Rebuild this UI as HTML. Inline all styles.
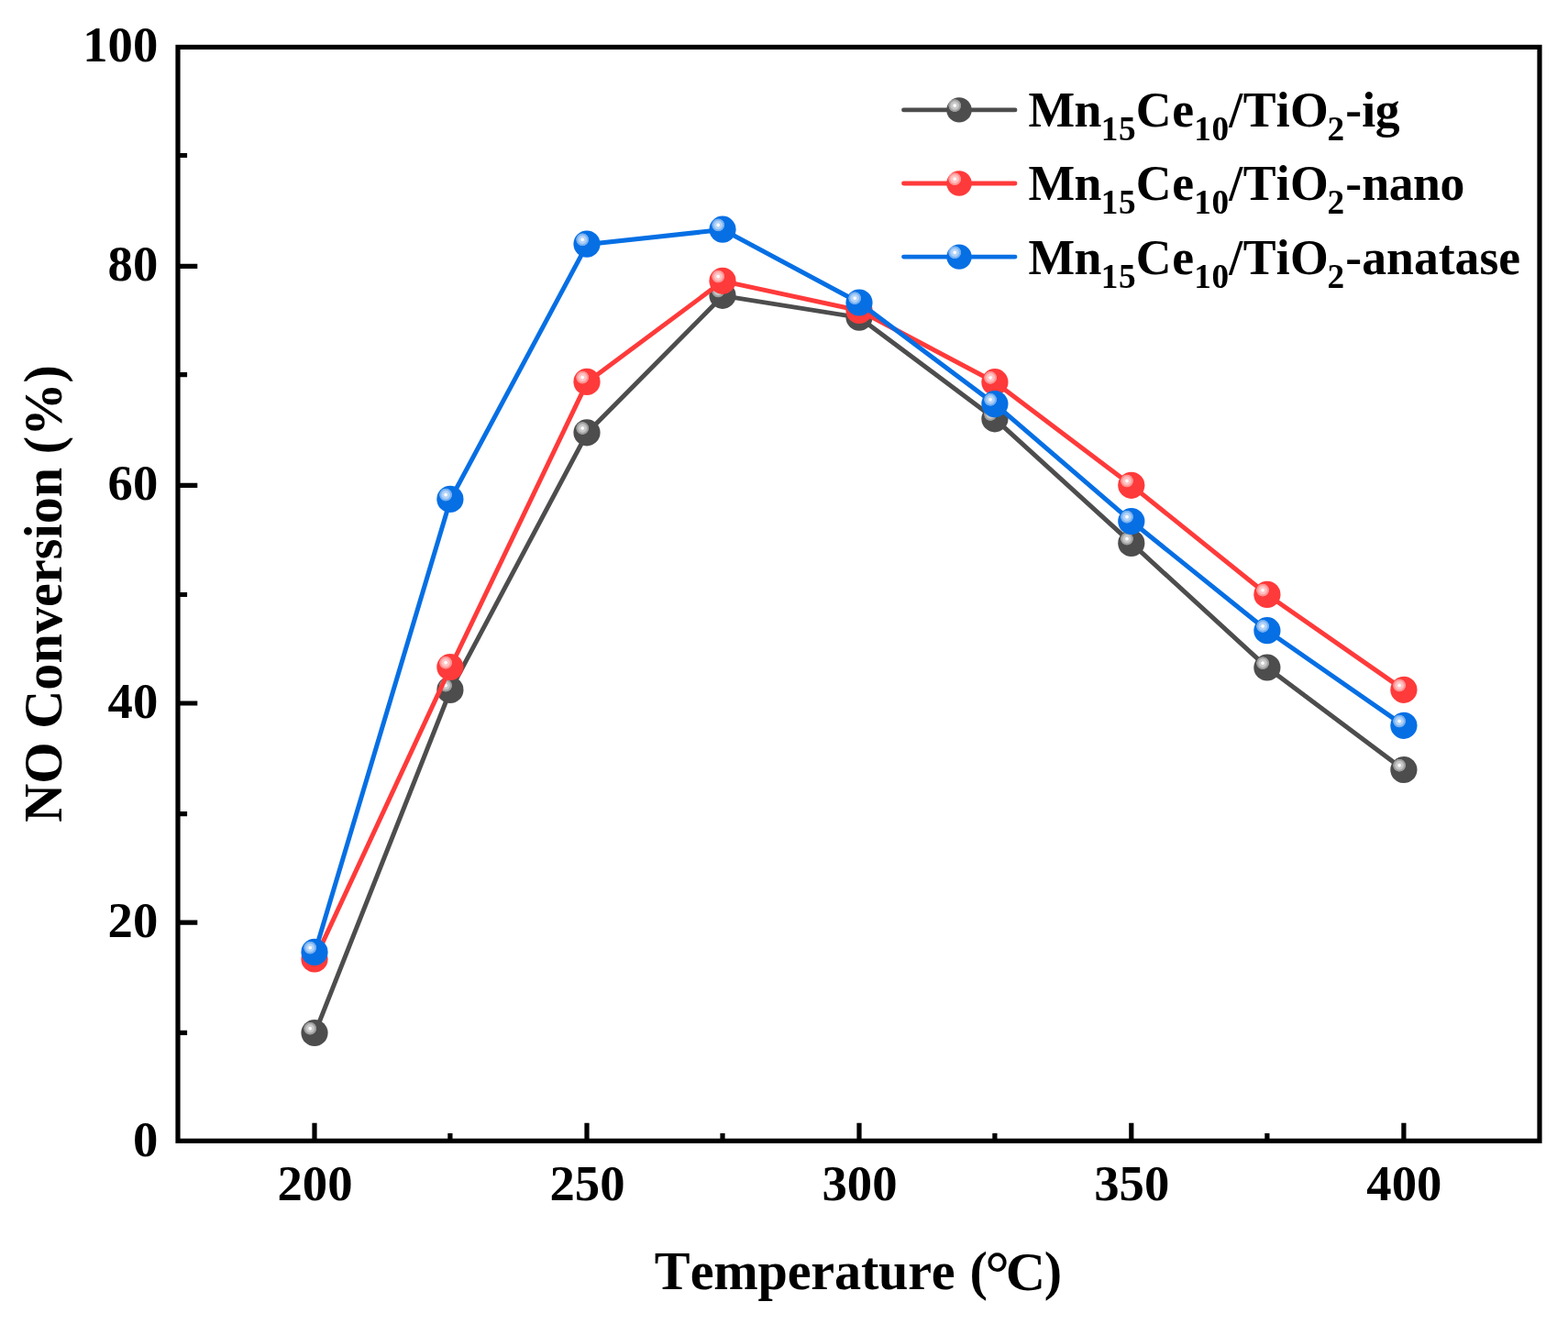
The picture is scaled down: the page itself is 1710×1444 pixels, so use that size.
<!DOCTYPE html>
<html lang="en"><head><meta charset="utf-8"><title>NO Conversion vs Temperature</title>
<style>html,body{margin:0;padding:0;background:#fff}body{width:1710px;height:1444px;overflow:hidden}svg{display:block}text{font-family:"Liberation Serif","Noto Serif CJK SC",serif;font-weight:bold;fill:#000;font-kerning:none}</style></head><body>
<svg width="1710" height="1444" viewBox="0 0 1710 1444">
<defs><radialGradient id="hl" cx="0.5" cy="0.5" r="0.5"><stop offset="0" stop-color="#fff" stop-opacity="1"/><stop offset="0.17" stop-color="#fff" stop-opacity="1"/><stop offset="0.31" stop-color="#fff" stop-opacity="0.72"/><stop offset="0.6" stop-color="#fff" stop-opacity="0.66"/><stop offset="0.7" stop-color="#fff" stop-opacity="0.5"/><stop offset="0.9" stop-color="#fff" stop-opacity="0.42"/><stop offset="1" stop-color="#fff" stop-opacity="0"/></radialGradient></defs>
<rect width="1710" height="1444" fill="#fff"/>
<g id="axes"><path d="M343 1244.3 V1224.8 M490.9 1244.3 V1236 M640 1244.3 V1224.8 M788 1244.3 V1236 M937 1244.3 V1224.8 M1084.9 1244.3 V1236 M1233.8 1244.3 V1224.8 M1381.9 1244.3 V1236 M1530.9 1244.3 V1224.8 M194 1126.4 H204.1 M194 1006.2 H215.3 M194 887.6 H204.1 M194 767 H215.3 M194 648.5 H204.1 M194 529.3 H215.3 M194 408.6 H204.1 M194 290.3 H215.3 M194 169.5 H204.1" stroke="#000" stroke-width="5.2" fill="none"/>
<rect x="194" y="51.4" width="1485" height="1192.9" fill="none" stroke="#000" stroke-width="5.2"/></g>
<g id="series-ig"><polyline points="343,1126.5 490.9,752.4 640,471.8 788,322.3 937,346.1 1084.9,456.8 1233.8,592.4 1381.9,728 1530.9,839.5" fill="none" stroke="#4d4d4d" stroke-width="5" stroke-linejoin="round" transform="translate(0.4 0.3)"/>
<circle cx="343" cy="1126.5" r="14.6" fill="#4d4d4d"/><circle cx="338.2" cy="1121.7" r="7.3" fill="url(#hl)"/>
<circle cx="490.9" cy="752.4" r="14.6" fill="#4d4d4d"/><circle cx="486.1" cy="747.6" r="7.3" fill="url(#hl)"/>
<circle cx="640" cy="471.8" r="14.6" fill="#4d4d4d"/><circle cx="635.2" cy="467" r="7.3" fill="url(#hl)"/>
<circle cx="788" cy="322.3" r="14.6" fill="#4d4d4d"/><circle cx="783.2" cy="317.5" r="7.3" fill="url(#hl)"/>
<circle cx="937" cy="346.1" r="14.6" fill="#4d4d4d"/><circle cx="932.2" cy="341.3" r="7.3" fill="url(#hl)"/>
<circle cx="1084.9" cy="456.8" r="14.6" fill="#4d4d4d"/><circle cx="1080.1" cy="452" r="7.3" fill="url(#hl)"/>
<circle cx="1233.8" cy="592.4" r="14.6" fill="#4d4d4d"/><circle cx="1229" cy="587.6" r="7.3" fill="url(#hl)"/>
<circle cx="1381.9" cy="728" r="14.6" fill="#4d4d4d"/><circle cx="1377.1" cy="723.2" r="7.3" fill="url(#hl)"/>
<circle cx="1530.9" cy="839.5" r="14.6" fill="#4d4d4d"/><circle cx="1526.1" cy="834.7" r="7.3" fill="url(#hl)"/>
</g>
<g id="series-nano"><polyline points="343,1046 490.9,727.5 640,416.4 788,306.3 937,338.4 1084.9,416.7 1233.8,529.3 1381.9,648.4 1530.9,752.3" fill="none" stroke="#ff3a3a" stroke-width="5" stroke-linejoin="round" transform="translate(0.4 0.3)"/>
<circle cx="343" cy="1046" r="14.6" fill="#ff3a3a"/><circle cx="338.2" cy="1041.2" r="7.3" fill="url(#hl)"/>
<circle cx="490.9" cy="727.5" r="14.6" fill="#ff3a3a"/><circle cx="486.1" cy="722.7" r="7.3" fill="url(#hl)"/>
<circle cx="640" cy="416.4" r="14.6" fill="#ff3a3a"/><circle cx="635.2" cy="411.6" r="7.3" fill="url(#hl)"/>
<circle cx="788" cy="306.3" r="14.6" fill="#ff3a3a"/><circle cx="783.2" cy="301.5" r="7.3" fill="url(#hl)"/>
<circle cx="937" cy="338.4" r="14.6" fill="#ff3a3a"/><circle cx="932.2" cy="333.6" r="7.3" fill="url(#hl)"/>
<circle cx="1084.9" cy="416.7" r="14.6" fill="#ff3a3a"/><circle cx="1080.1" cy="411.9" r="7.3" fill="url(#hl)"/>
<circle cx="1233.8" cy="529.3" r="14.6" fill="#ff3a3a"/><circle cx="1229" cy="524.5" r="7.3" fill="url(#hl)"/>
<circle cx="1381.9" cy="648.4" r="14.6" fill="#ff3a3a"/><circle cx="1377.1" cy="643.6" r="7.3" fill="url(#hl)"/>
<circle cx="1530.9" cy="752.3" r="14.6" fill="#ff3a3a"/><circle cx="1526.1" cy="747.5" r="7.3" fill="url(#hl)"/>
</g>
<g id="series-anatase"><polyline points="343,1038.4 490.9,544.4 640,266.1 788,250.2 937,330 1084.9,440.6 1233.8,568.5 1381.9,687.7 1530.9,791.3" fill="none" stroke="#066fe4" stroke-width="5" stroke-linejoin="round" transform="translate(0.4 0.3)"/>
<circle cx="343" cy="1038.4" r="14.6" fill="#066fe4"/><circle cx="338.2" cy="1033.6" r="7.3" fill="url(#hl)"/>
<circle cx="490.9" cy="544.4" r="14.6" fill="#066fe4"/><circle cx="486.1" cy="539.6" r="7.3" fill="url(#hl)"/>
<circle cx="640" cy="266.1" r="14.6" fill="#066fe4"/><circle cx="635.2" cy="261.3" r="7.3" fill="url(#hl)"/>
<circle cx="788" cy="250.2" r="14.6" fill="#066fe4"/><circle cx="783.2" cy="245.4" r="7.3" fill="url(#hl)"/>
<circle cx="937" cy="330" r="14.6" fill="#066fe4"/><circle cx="932.2" cy="325.2" r="7.3" fill="url(#hl)"/>
<circle cx="1084.9" cy="440.6" r="14.6" fill="#066fe4"/><circle cx="1080.1" cy="435.8" r="7.3" fill="url(#hl)"/>
<circle cx="1233.8" cy="568.5" r="14.6" fill="#066fe4"/><circle cx="1229" cy="563.7" r="7.3" fill="url(#hl)"/>
<circle cx="1381.9" cy="687.7" r="14.6" fill="#066fe4"/><circle cx="1377.1" cy="682.9" r="7.3" fill="url(#hl)"/>
<circle cx="1530.9" cy="791.3" r="14.6" fill="#066fe4"/><circle cx="1526.1" cy="786.5" r="7.3" fill="url(#hl)"/>
</g>
<g id="ytick-labels" font-size="54.7" text-anchor="end">
<text x="172.3" y="67.2" transform="matrix(1 0 0 1.012 0 -0.806)">100</text>
<text x="172.3" y="306.1" transform="matrix(1 0 0 1.012 0 -3.673)">80</text>
<text x="172.3" y="545.1" transform="matrix(1 0 0 1.012 0 -6.541)">60</text>
<text x="172.3" y="782.8" transform="matrix(1 0 0 1.012 0 -9.394)">40</text>
<text x="172.3" y="1022" transform="matrix(1 0 0 1.012 0 -12.264)">20</text>
<text x="172.3" y="1261.3" transform="matrix(1 0 0 1.012 0 -15.136)">0</text>
</g>
<g id="xtick-labels" font-size="54.7" text-anchor="middle" transform="matrix(1 0 0 1.012 0 -15.713)">
<text x="343.5" y="1309.4">200</text>
<text x="640.5" y="1309.4">250</text>
<text x="937.5" y="1309.4">300</text>
<text x="1234.3" y="1309.4">350</text>
<text x="1531.4" y="1309.4">400</text>
</g>
<text id="xtitle" font-size="58.2"><tspan x="713.7" y="1406">T</tspan><tspan x="752.7" letter-spacing="-0.2">emperature </tspan><tspan x="1057.5">(</tspan><tspan x="1074.25" dy="6.05" font-size="66.7">°</tspan><tspan x="1096.85" dy="-5.55" font-size="60">C</tspan><tspan x="1138.7" dy="-0.5">)</tspan></text>
<text id="ytitle" transform="translate(67.1 647.4) rotate(-90)" font-size="58.2" text-anchor="middle" letter-spacing="0.05">NO Conversion (%)</text>
<g id="legend">
<line x1="985.5" y1="119.9" x2="1107" y2="119.9" stroke="#4d4d4d" stroke-width="4.8" stroke-linecap="round"/>
<circle cx="1046" cy="119.9" r="13.7" fill="#4d4d4d"/><circle cx="1041.2" cy="115.1" r="7.3" fill="url(#hl)"/>
<text font-size="53.7" transform="matrix(1 0 0 1.01 0 -1.384)"><tspan x="1121.38" y="138.4" letter-spacing="-0.55">Mn</tspan><tspan x="1200.7" y="153.25" font-size="37.3" letter-spacing="0.64">15</tspan><tspan x="1238.65" y="138.4" letter-spacing="0.96">Ce</tspan><tspan x="1302.3" y="153.25" font-size="37.3" letter-spacing="0.45">10</tspan><tspan x="1340.15" y="138.4">/</tspan><tspan x="1355.86" letter-spacing="0.2">TiO</tspan><tspan x="1447.49" y="153.25" font-size="37.3">2</tspan><tspan x="1467.36" y="138.4">-</tspan><tspan x="1485.3" letter-spacing="-0.36">ig</tspan></text>
<line x1="985.5" y1="200" x2="1107" y2="200" stroke="#ff3a3a" stroke-width="4.8" stroke-linecap="round"/>
<circle cx="1046" cy="200" r="13.7" fill="#ff3a3a"/><circle cx="1041.2" cy="195.2" r="7.3" fill="url(#hl)"/>
<text font-size="53.7" transform="matrix(1 0 0 1.01 0 -2.185)"><tspan x="1121.38" y="218.5" letter-spacing="-0.55">Mn</tspan><tspan x="1200.7" y="233.35" font-size="37.3" letter-spacing="0.64">15</tspan><tspan x="1238.65" y="218.5" letter-spacing="0.96">Ce</tspan><tspan x="1302.3" y="233.35" font-size="37.3" letter-spacing="0.45">10</tspan><tspan x="1340.15" y="218.5">/</tspan><tspan x="1355.86" letter-spacing="0.2">TiO</tspan><tspan x="1447.49" y="233.35" font-size="37.3">2</tspan><tspan x="1467.36" y="218.5">-</tspan><tspan x="1485.3" letter-spacing="-0.44">nano</tspan></text>
<line x1="985.5" y1="280.1" x2="1107" y2="280.1" stroke="#066fe4" stroke-width="4.8" stroke-linecap="round"/>
<circle cx="1046" cy="280.1" r="13.7" fill="#066fe4"/><circle cx="1041.2" cy="275.3" r="7.3" fill="url(#hl)"/>
<text font-size="53.7" transform="matrix(1 0 0 1.01 0 -2.986)"><tspan x="1121.38" y="298.6" letter-spacing="-0.55">Mn</tspan><tspan x="1200.7" y="313.45" font-size="37.3" letter-spacing="0.64">15</tspan><tspan x="1238.65" y="298.6" letter-spacing="0.96">Ce</tspan><tspan x="1302.3" y="313.45" font-size="37.3" letter-spacing="0.45">10</tspan><tspan x="1340.15" y="298.6">/</tspan><tspan x="1355.86" letter-spacing="0.2">TiO</tspan><tspan x="1447.49" y="313.45" font-size="37.3">2</tspan><tspan x="1467.36" y="298.6">-</tspan><tspan x="1485.3" letter-spacing="-0.03">anatase</tspan></text>
</g>
</svg></body></html>
